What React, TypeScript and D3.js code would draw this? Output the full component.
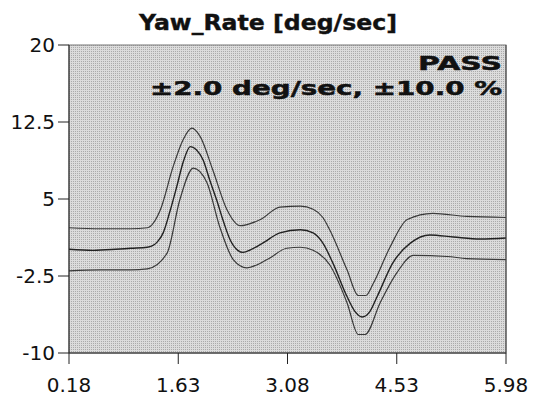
import React from "react"
import * as d3 from "d3"

// time stamps / values (sec, deg/sec)
const centerT = [0.18, 0.5, 0.8, 1.0, 1.22, 1.35, 1.43, 1.52, 1.61, 1.7, 1.79, 1.87, 1.96, 2.05, 2.14, 2.23, 2.32, 2.42, 2.49, 2.6, 2.75, 2.98, 3.25, 3.42, 3.55, 3.68, 3.87, 3.98, 4.07, 4.17, 4.27, 4.48, 4.71, 4.97, 5.28, 5.64, 5.98]
const centerV = [0.1, 0.0, 0.1, 0.2, 0.3, 0.8, 1.7, 3.8, 6.2, 8.7, 10.1, 9.8, 8.8, 6.8, 4.9, 2.8, 1.0, 0.0, -0.2, 0.1, 0.7, 1.7, 2.0, 1.7, 0.7, -1.2, -4.5, -6.0, -6.5, -6.0, -4.5, -1.2, 0.7, 1.5, 1.3, 1.1, 1.2]

const upperT = [0.18, 0.6, 1.0, 1.22, 1.39, 1.56, 1.69, 1.81, 1.92, 2.09, 2.28, 2.45, 2.72, 2.98, 3.25, 3.42, 3.55, 3.64, 3.87, 4.02, 4.12, 4.22, 4.44, 4.67, 5.01, 5.46, 5.98]
const upperV = [2.2, 2.1, 2.1, 2.2, 3.9, 8.1, 10.7, 11.9, 11.1, 7.8, 3.9, 2.4, 3.0, 4.2, 4.3, 4.0, 3.2, 2.0, -1.9, -4.4, -4.4, -3.2, 0.3, 3.0, 3.6, 3.3, 3.2]

const lowerT = [0.18, 0.6, 1.0, 1.22, 1.48, 1.65, 1.83, 2.01, 2.18, 2.36, 2.54, 2.81, 3.07, 3.25, 3.42, 3.64, 3.87, 4.02, 4.11, 4.31, 4.53, 4.75, 5.2, 5.46, 5.98]
const lowerV = [-2.0, -1.9, -1.9, -1.8, -0.3, 4.9, 8.0, 6.6, 2.3, -0.9, -1.7, -0.9, 0.2, 0.3, 0.0, -1.4, -5.1, -8.2, -8.2, -5.1, -2.2, -0.5, -0.6, -0.8, -0.9]

const xTicks = [0.18, 1.63, 3.08, 4.53, 5.98]
const yTicks = [20, 12.5, 5, -2.5, -10]

const W = 533
const H = 397
const margin = { top: 45, right: 27, bottom: 44, left: 69 }

export default function App() {
  const innerW = W - margin.left - margin.right
  const innerH = H - margin.top - margin.bottom

  const x = d3.scaleLinear().domain([0.18, 5.98]).range([0, innerW])
  const y = d3.scaleLinear().domain([-10, 20]).range([innerH, 0])

  const line = d3
    .line<[number, number]>()
    .x(d => x(d[0]))
    .y(d => y(d[1]))
    .curve(d3.curveMonotoneX)

  const zip = (t: number[], v: number[]) => t.map((ti, i) => [ti, v[i]] as [number, number])

  const series = [
    { pts: zip(upperT, upperV), color: "#3a3a3a", w: 1.2 },
    { pts: zip(lowerT, lowerV), color: "#3a3a3a", w: 1.2 },
    { pts: zip(centerT, centerV), color: "#222", w: 1.4 },
  ]

  const font = "'DejaVu Sans', Verdana, sans-serif"

  return (
    <svg width={W} height={H} style={{ position: "absolute", left: 0, top: 0, background: "#fff" }}>
      <defs>
        <pattern id="dots" width="2" height="2" patternUnits="userSpaceOnUse">
          <rect width="2" height="2" fill="#dcdcdc" />
          <rect width="1" height="1" fill="#ababab" />
        </pattern>
      </defs>
      <text
        x={268}
        y={30}
        textAnchor="middle"
        fontFamily={font}
        fontWeight="bold"
        fontSize={21}
        fill="#111"
        stroke="#111"
        strokeWidth={0.4}
        textLength={258}
        lengthAdjust="spacingAndGlyphs"
      >
        Yaw_Rate [deg/sec]
      </text>
      <g transform={`translate(${margin.left},${margin.top})`}>
        <rect width={innerW} height={innerH} fill="url(#dots)" stroke="#777" strokeWidth={1} />
        {series.map((s, i) => (
          <path key={i} d={line(s.pts) ?? ""} fill="none" stroke={s.color} strokeWidth={s.w} />
        ))}
        <line x1={0} x2={0} y1={0} y2={innerH} stroke="#222" />
        <line x1={0} x2={innerW} y1={innerH} y2={innerH} stroke="#222" />
        <line x1={innerW} x2={innerW} y1={0} y2={innerH} stroke="#444" />
        {yTicks.map(t => (
          <g key={t} transform={`translate(0,${y(t)})`}>
            <line x1={-11} x2={0} stroke="#222" />
            <text x={-14} dy="0.35em" textAnchor="end" fontFamily={font} fontSize={20} fill="#111">
              {t}
            </text>
          </g>
        ))}
        {xTicks.map(t => (
          <g key={t} transform={`translate(${x(t)},${innerH})`}>
            <line y1={0} y2={11} stroke="#222" />
            <text y={39} textAnchor="middle" fontFamily={font} fontSize={20} fill="#111">
              {t.toFixed(2)}
            </text>
          </g>
        ))}
        <text
          x={innerW - 4}
          y={70 - margin.top}
          textAnchor="end"
          fontFamily={font}
          fontWeight="bold"
          fontSize={20}
          fill="#111"
          stroke="#111"
          strokeWidth={0.5}
          textLength={84}
          lengthAdjust="spacingAndGlyphs"
        >
          PASS
        </text>
        <text
          x={innerW - 4}
          y={95 - margin.top}
          textAnchor="end"
          fontFamily={font}
          fontWeight="bold"
          fontSize={20}
          fill="#111"
          stroke="#111"
          strokeWidth={0.5}
          textLength={352}
          lengthAdjust="spacingAndGlyphs"
        >
          ±2.0 deg/sec, ±10.0 %
        </text>
      </g>
    </svg>
  )
}
